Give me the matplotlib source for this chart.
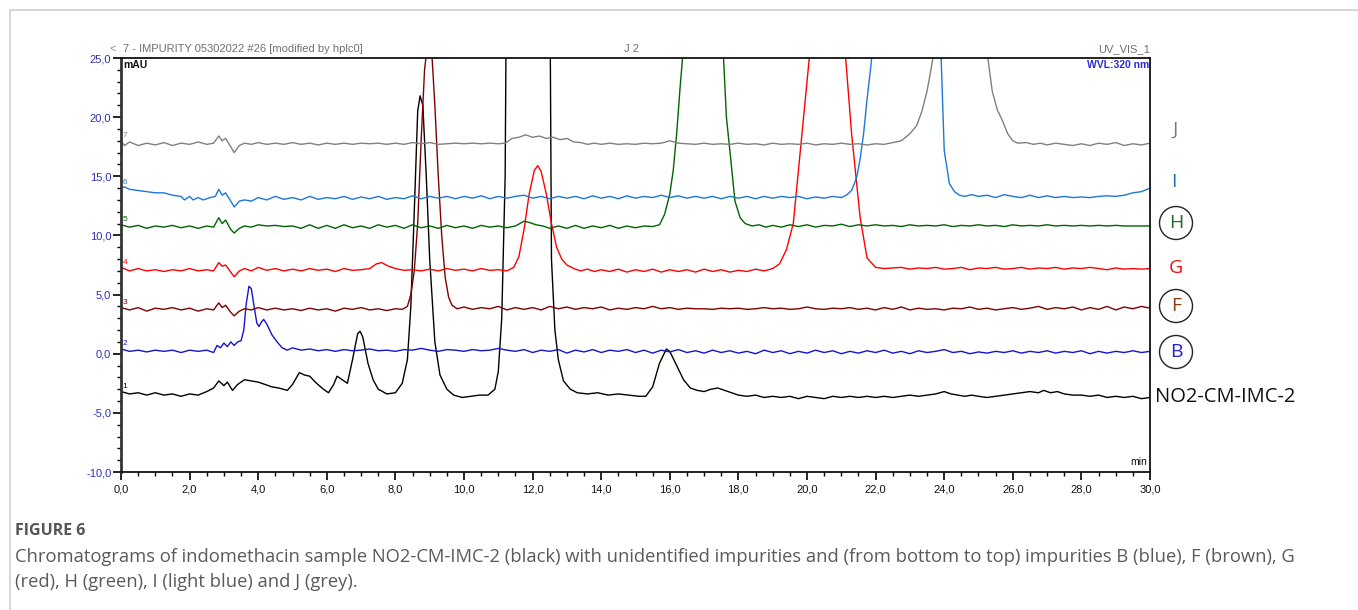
import matplotlib
matplotlib.use("Agg")
import matplotlib.pyplot as plt
from matplotlib.patches import Ellipse, Rectangle
from matplotlib.ticker import MultipleLocator, FuncFormatter

# ---------------- data (time [min], signal [mAU]) ----------------
trace_NO2 = [(0.0,-3.2),(0.25,-3.4),(0.5,-3.3),(0.75,-3.5),(1.0,-3.3),(1.25,-3.5),(1.5,-3.4),(1.75,-3.6),
    (2.0,-3.4),(2.25,-3.5),(2.5,-3.2),(2.7,-2.9),(2.85,-2.3),(3.0,-2.7),(3.1,-2.4),(3.25,-3.1),(3.4,-2.6),
    (3.6,-2.2),(3.8,-2.3),(4.0,-2.4),(4.2,-2.6),(4.4,-2.8),(4.6,-2.9),(4.85,-3.1),(5.0,-2.6),(5.2,-1.6),
    (5.35,-1.8),(5.5,-1.9),(5.7,-2.5),(5.9,-3.0),(6.05,-3.3),(6.2,-2.6),(6.3,-1.9),(6.45,-2.2),(6.6,-2.5),
    (6.75,-0.5),(6.9,1.7),(6.97,1.9),(7.05,1.4),(7.2,-0.8),(7.35,-2.2),(7.5,-3.0),(7.75,-3.4),(8.0,-3.3),
    (8.2,-2.5),(8.35,-0.5),(8.45,4.0),(8.55,12.0),(8.65,20.5),(8.72,21.8),(8.8,21.0),(8.9,15.0),(9.0,8.0),
    (9.15,1.0),(9.3,-1.8),(9.5,-3.0),(9.7,-3.5),(9.95,-3.7),(10.2,-3.6),(10.45,-3.5),(10.7,-3.5),(10.9,-3.0),
    (11.0,-1.5),(11.1,3.0),(11.2,15.0),(11.3,60.0),(11.9,150.0),(12.45,60.0),(12.55,8.0),(12.65,2.0),
    (12.75,-0.5),(12.9,-2.3),(13.1,-3.0),(13.3,-3.3),(13.6,-3.4),(13.9,-3.3),(14.2,-3.5),(14.5,-3.4),
    (14.8,-3.5),(15.1,-3.6),(15.3,-3.6),(15.5,-2.8),(15.7,-0.8),(15.9,0.4),(16.0,0.2),(16.2,-1.0),(16.4,-2.2),
    (16.6,-2.9),(16.8,-3.1),(17.0,-3.2),(17.2,-3.0),(17.4,-2.9),(17.6,-3.1),(17.8,-3.3),(18.0,-3.5),
    (18.25,-3.6),(18.5,-3.5),(18.75,-3.7),(19.0,-3.6),(19.25,-3.7),(19.5,-3.6),(19.75,-3.8),(20.0,-3.6),
    (20.25,-3.7),(20.5,-3.8),(20.75,-3.6),(21.0,-3.7),(21.25,-3.6),(21.5,-3.7),(21.75,-3.6),(22.0,-3.7),
    (22.25,-3.6),(22.5,-3.7),(22.75,-3.6),(23.0,-3.5),(23.25,-3.6),(23.5,-3.5),(23.75,-3.4),(24.0,-3.2),
    (24.2,-3.4),(24.4,-3.5),(24.6,-3.6),(24.8,-3.5),(25.0,-3.6),(25.25,-3.7),(25.5,-3.6),(25.75,-3.5),
    (26.0,-3.4),(26.25,-3.3),(26.5,-3.2),(26.75,-3.3),(26.9,-3.1),(27.1,-3.3),(27.3,-3.2),(27.5,-3.4),
    (27.75,-3.5),(28.0,-3.5),(28.25,-3.6),(28.5,-3.5),(28.75,-3.7),(29.0,-3.6),(29.25,-3.7),(29.5,-3.6),
    (29.75,-3.8),(30.0,-3.7)]

trace_B = [(0,0.4),(0.25,0.2),(0.5,0.3),(0.75,0.15),(1.0,0.3),(1.25,0.2),(1.5,0.3),(1.75,0.1),(2.0,0.3),
    (2.25,0.2),(2.5,0.3),(2.7,0.1),(2.8,0.7),(2.9,0.5),(3.0,0.9),(3.1,0.6),(3.2,1.0),(3.3,0.7),(3.4,1.0),
    (3.5,1.1),(3.58,2.0),(3.65,4.2),(3.73,5.7),(3.8,5.5),(3.88,4.0),(3.96,2.6),(4.02,2.3),(4.1,2.7),
    (4.16,2.9),(4.25,2.5),(4.4,1.6),(4.55,1.0),(4.7,0.5),(4.85,0.3),(5.0,0.5),(5.25,0.3),(5.5,0.4),
    (5.75,0.25),(6.0,0.35),(6.25,0.2),(6.5,0.35),(6.75,0.25),(7.0,0.3),(7.25,0.4),(7.5,0.25),(7.75,0.3),
    (8.0,0.2),(8.25,0.35),(8.5,0.3),(8.75,0.45),(9.0,0.3),(9.25,0.2),(9.5,0.35),(9.75,0.3),(10.0,0.2),
    (10.25,0.35),(10.5,0.25),(10.75,0.3),(11.0,0.45),(11.25,0.3),(11.5,0.2),(11.75,0.35),(12.0,0.1),
    (12.25,0.3),(12.5,0.2),(12.75,0.35),(13.0,0.05),(13.25,0.3),(13.5,0.15),(13.75,0.35),(14.0,0.1),
    (14.25,0.3),(14.5,0.2),(14.75,0.35),(15.0,0.1),(15.25,0.3),(15.5,0.05),(15.75,0.3),(16.0,0.15),
    (16.25,0.35),(16.5,0.1),(16.75,0.25),(17.0,0.05),(17.25,0.3),(17.5,0.1),(17.75,0.25),(18.0,0.05),
    (18.25,0.2),(18.5,0.0),(18.75,0.3),(19.0,0.1),(19.25,0.25),(19.5,0.0),(19.75,0.2),(20.0,0.05),
    (20.25,0.3),(20.5,0.1),(20.75,0.25),(21.0,0.0),(21.25,0.2),(21.5,0.05),(21.75,0.25),(22.0,0.1),
    (22.25,0.3),(22.5,0.05),(22.75,0.2),(23.0,0.0),(23.25,0.25),(23.5,0.1),(23.75,0.2),(24.0,0.35),
    (24.25,0.1),(24.5,0.2),(24.75,0.0),(25.0,0.15),(25.25,0.05),(25.5,0.2),(25.75,0.1),(26.0,0.25),
    (26.25,0.05),(26.5,0.2),(26.75,0.1),(27.0,0.25),(27.25,0.05),(27.5,0.2),(27.75,0.1),(28.0,0.25),
    (28.25,0.0),(28.5,0.2),(28.75,0.05),(29.0,0.2),(29.25,0.1),(29.5,0.25),(29.75,0.1),(30.0,0.2)]

trace_F = [(0,3.9),(0.25,3.7),(0.5,3.9),(0.75,3.6),(1.0,3.85),(1.25,3.75),(1.5,3.9),(1.75,3.7),(2.0,3.85),
    (2.25,3.6),(2.5,3.8),(2.7,3.7),(2.85,4.3),(2.95,3.9),(3.05,4.1),(3.2,3.5),(3.3,3.2),(3.45,3.6),(3.6,3.8),
    (3.8,3.7),(4.0,3.9),(4.25,3.7),(4.5,3.85),(4.75,3.7),(5.0,3.8),(5.25,3.65),(5.5,3.85),(5.75,3.7),
    (6.0,3.8),(6.25,3.6),(6.5,3.85),(6.75,3.75),(7.0,3.9),(7.25,3.7),(7.5,3.8),(7.75,3.65),(8.0,3.8),
    (8.2,3.75),(8.35,4.0),(8.45,5.0),(8.55,7.0),(8.65,11.0),(8.75,18.0),(8.85,24.0),(8.95,26.5),(9.05,26.0),
    (9.15,21.0),(9.25,15.0),(9.35,10.0),(9.45,6.5),(9.55,4.8),(9.65,4.1),(9.8,3.8),(10.0,3.95),(10.25,3.75),
    (10.5,3.9),(10.75,3.8),(11.0,4.0),(11.25,3.7),(11.5,3.9),(11.75,3.75),(12.0,3.9),(12.25,3.7),(12.5,4.0),
    (12.75,3.8),(13.0,3.95),(13.25,3.75),(13.5,3.9),(13.75,3.8),(14.0,3.95),(14.25,3.7),(14.5,3.85),
    (14.75,3.75),(15.0,3.9),(15.25,3.8),(15.5,4.0),(15.75,3.8),(16.0,3.9),(16.25,3.75),(16.5,3.85),
    (16.75,3.8),(17.0,3.8),(17.25,3.75),(17.5,3.85),(17.75,3.8),(18.0,3.85),(18.25,3.75),(18.5,3.8),
    (18.75,3.9),(19.0,3.8),(19.25,3.85),(19.5,3.75),(19.75,3.8),(20.0,3.95),(20.25,3.8),(20.5,3.75),
    (20.75,3.85),(21.0,3.8),(21.25,3.9),(21.5,3.75),(21.75,3.85),(22.0,3.7),(22.25,3.9),(22.5,3.75),
    (22.75,3.95),(23.0,3.7),(23.25,3.85),(23.5,3.75),(23.75,3.8),(24.0,3.7),(24.25,3.85),(24.5,3.8),
    (24.75,3.95),(25.0,3.75),(25.25,3.85),(25.5,3.7),(25.75,3.8),(26.0,3.9),(26.25,3.75),(26.5,3.85),
    (26.75,4.0),(27.0,3.75),(27.25,3.9),(27.5,3.8),(27.75,3.95),(28.0,3.7),(28.25,3.9),(28.5,3.75),
    (28.75,4.0),(29.0,3.7),(29.25,3.95),(29.5,3.8),(29.75,4.0),(30.0,3.85)]

trace_G = [(0,7.3),(0.25,7.0),(0.5,7.2),(0.75,7.0),(1.0,7.1),(1.25,6.95),(1.5,7.1),(1.75,7.0),(2.0,7.2),
    (2.25,7.0),(2.5,7.1),(2.7,7.0),(2.85,7.7),(2.95,7.4),(3.05,7.5),(3.2,6.9),(3.3,6.5),(3.45,7.0),(3.6,7.2),
    (3.8,7.0),(4.0,7.3),(4.25,7.05),(4.5,7.2),(4.75,7.0),(5.0,7.15),(5.25,7.0),(5.5,7.2),(5.75,7.05),
    (6.0,7.15),(6.25,6.95),(6.5,7.2),(6.75,7.05),(7.0,7.1),(7.25,7.2),(7.45,7.6),(7.6,7.7),(7.8,7.4),
    (8.0,7.2),(8.25,7.05),(8.5,7.1),(8.75,7.0),(9.0,7.15),(9.25,7.0),(9.5,7.2),(9.75,7.05),(10.0,7.15),
    (10.25,7.0),(10.5,7.2),(10.75,7.05),(11.0,7.1),(11.25,7.0),(11.45,7.3),(11.6,8.2),(11.75,10.5),
    (11.9,13.5),(12.05,15.5),(12.15,15.9),(12.25,15.4),(12.4,13.5),(12.55,11.0),(12.7,9.0),(12.85,8.0),
    (13.0,7.5),(13.2,7.2),(13.4,7.0),(13.6,7.15),(13.8,6.95),(14.0,7.1),(14.25,6.95),(14.5,7.15),
    (14.75,6.9),(15.0,7.1),(15.25,6.95),(15.5,7.15),(15.75,6.9),(16.0,7.1),(16.25,6.95),(16.5,7.1),
    (16.75,6.9),(17.0,7.15),(17.25,6.95),(17.5,7.1),(17.75,6.9),(18.0,7.05),(18.25,6.95),(18.5,7.15),
    (18.75,7.0),(19.0,7.2),(19.2,7.6),(19.4,8.8),(19.6,11.0),(19.8,17.0),(20.0,23.0),(20.1,26.0),
    (20.6,45.0),(21.1,26.0),(21.3,18.6),(21.55,11.5),(21.75,8.1),(22.0,7.3),(22.25,7.2),(22.5,7.25),
    (22.75,7.3),(23.0,7.15),(23.25,7.25),(23.5,7.2),(23.75,7.3),(24.0,7.15),(24.25,7.2),(24.5,7.3),
    (24.75,7.1),(25.0,7.25),(25.25,7.2),(25.5,7.3),(25.75,7.15),(26.0,7.2),(26.25,7.3),(26.5,7.15),
    (26.75,7.25),(27.0,7.2),(27.25,7.3),(27.5,7.15),(27.75,7.25),(28.0,7.2),(28.25,7.3),(28.5,7.2),
    (28.75,7.1),(29.0,7.25),(29.25,7.15),(29.5,7.2),(29.75,7.15),(30.0,7.2)]

trace_H = [(0,10.9),(0.25,10.7),(0.5,10.85),(0.75,10.6),(1.0,10.8),(1.25,10.7),(1.5,10.85),(1.75,10.65),
    (2.0,10.8),(2.25,10.6),(2.5,10.8),(2.7,10.7),(2.85,11.5),(2.95,11.0),(3.05,11.3),(3.2,10.5),(3.3,10.2),
    (3.45,10.6),(3.6,10.8),(3.8,10.7),(4.0,10.9),(4.25,10.8),(4.5,10.85),(4.75,10.75),(5.0,10.8),(5.25,10.6),
    (5.5,10.9),(5.75,10.6),(6.0,10.85),(6.25,10.6),(6.5,10.9),(6.75,10.65),(7.0,10.8),(7.25,10.6),(7.5,10.9),
    (7.75,10.7),(8.0,10.85),(8.25,10.6),(8.5,10.9),(8.75,10.65),(9.0,10.8),(9.25,10.6),(9.5,10.85),
    (9.75,10.65),(10.0,10.8),(10.25,10.6),(10.5,10.85),(10.75,10.7),(11.0,10.8),(11.25,10.65),(11.5,10.8),
    (11.75,11.2),(11.9,11.1),(12.1,10.9),(12.3,10.8),(12.5,10.6),(12.75,10.8),(13.0,10.6),(13.25,10.85),
    (13.5,10.6),(13.75,10.8),(14.0,10.65),(14.25,10.85),(14.5,10.6),(14.75,10.8),(15.0,10.65),(15.25,10.8),
    (15.5,10.75),(15.7,10.9),(15.85,11.8),(16.0,13.5),(16.1,15.5),(16.2,18.6),(16.3,22.5),(16.4,26.0),
    (17.0,50.0),(17.55,26.0),(17.65,20.0),(17.75,17.2),(17.9,12.9),(18.05,11.5),(18.2,11.0),(18.4,10.8),
    (18.6,10.9),(18.8,10.7),(19.0,10.85),(19.25,10.7),(19.5,10.9),(19.75,10.75),(20.0,10.9),(20.25,10.7),
    (20.5,10.85),(20.75,10.8),(21.0,10.95),(21.25,10.75),(21.5,10.9),(21.75,10.8),(22.0,10.9),(22.25,10.8),
    (22.5,10.85),(22.75,10.75),(23.0,10.9),(23.25,10.8),(23.5,10.85),(23.75,10.8),(24.0,10.9),(24.25,10.75),
    (24.5,10.85),(24.75,10.8),(25.0,10.9),(25.25,10.8),(25.5,10.85),(25.75,10.75),(26.0,10.9),(26.25,10.8),
    (26.5,10.85),(26.75,10.8),(27.0,10.9),(27.25,10.8),(27.5,10.85),(27.75,10.8),(28.0,10.85),(28.25,10.8),
    (28.5,10.85),(28.75,10.8),(29.0,10.85),(29.25,10.8),(29.5,10.8),(29.75,10.8),(30.0,10.8)]

trace_I = [(0,14.0),(0.1,14.1),(0.25,13.9),(0.5,13.8),(0.75,13.7),(1.0,13.6),(1.25,13.6),(1.5,13.4),
    (1.75,13.3),(1.85,13.0),(2.0,13.3),(2.1,13.0),(2.25,13.2),(2.4,13.0),(2.6,13.2),(2.75,13.3),(2.85,13.9),
    (2.95,13.4),(3.05,13.6),(3.2,12.9),(3.3,12.4),(3.45,12.9),(3.6,13.0),(3.8,12.9),(4.0,13.2),(4.25,13.0),
    (4.5,13.3),(4.75,13.05),(5.0,13.2),(5.25,13.0),(5.5,13.3),(5.75,13.05),(6.0,13.2),(6.25,13.1),(6.5,13.3),
    (6.75,13.05),(7.0,13.25),(7.25,13.1),(7.5,13.3),(7.75,13.05),(8.0,13.2),(8.25,13.1),(8.5,13.35),
    (8.75,13.1),(9.0,13.3),(9.25,13.15),(9.5,13.3),(9.75,13.1),(10.0,13.3),(10.25,13.15),(10.5,13.35),
    (10.75,13.1),(11.0,13.3),(11.25,13.15),(11.5,13.3),(11.75,13.4),(12.0,13.15),(12.25,13.3),(12.5,13.1),
    (12.75,13.3),(13.0,13.15),(13.25,13.3),(13.5,13.1),(13.75,13.35),(14.0,13.15),(14.25,13.3),(14.5,13.1),
    (14.75,13.35),(15.0,13.15),(15.25,13.3),(15.5,13.2),(15.75,13.4),(16.0,13.2),(16.25,13.35),(16.5,13.15),
    (16.75,13.3),(17.0,13.15),(17.25,13.3),(17.5,13.1),(17.75,13.3),(18.0,13.15),(18.25,13.3),(18.5,13.1),
    (18.75,13.3),(19.0,13.15),(19.25,13.3),(19.5,13.2),(19.75,13.3),(20.0,13.1),(20.25,13.25),(20.5,13.15),
    (20.75,13.3),(21.0,13.2),(21.15,13.4),(21.3,13.8),(21.45,14.9),(21.55,16.5),(21.65,18.6),(21.75,21.5),
    (21.85,24.0),(21.92,26.0),(22.9,60.0),(23.9,26.0),(24.0,17.2),(24.15,14.4),(24.3,13.7),(24.45,13.4),
    (24.6,13.3),(24.8,13.45),(25.0,13.3),(25.25,13.4),(25.5,13.2),(25.75,13.45),(26.0,13.3),(26.25,13.2),
    (26.5,13.4),(26.75,13.2),(27.0,13.35),(27.25,13.2),(27.5,13.3),(27.75,13.2),(28.0,13.25),(28.25,13.2),
    (28.5,13.3),(28.75,13.35),(29.0,13.3),(29.25,13.4),(29.5,13.6),(29.75,13.7),(30.0,14.0)]

trace_J = [(0,18.0),(0.1,17.6),(0.25,17.9),(0.5,17.6),(0.75,17.8),(1.0,17.65),(1.25,17.85),(1.5,17.6),
    (1.75,17.8),(2.0,17.7),(2.25,17.9),(2.5,17.7),(2.7,17.8),(2.85,18.4),(2.95,18.0),(3.05,18.2),(3.2,17.5),
    (3.3,17.0),(3.45,17.6),(3.6,17.8),(3.8,17.7),(4.0,17.85),(4.25,17.7),(4.5,17.8),(4.75,17.7),(5.0,17.85),
    (5.25,17.7),(5.5,17.8),(5.75,17.65),(6.0,17.8),(6.25,17.7),(6.5,17.8),(6.75,17.7),(7.0,17.8),(7.25,17.75),
    (7.5,17.8),(7.75,17.7),(8.0,17.8),(8.25,17.7),(8.5,17.85),(8.75,17.75),(9.0,17.85),(9.25,17.7),
    (9.5,17.75),(9.75,17.8),(10.0,17.75),(10.25,17.8),(10.5,17.75),(10.75,17.8),(11.0,17.75),(11.2,17.8),
    (11.4,18.2),(11.6,18.3),(11.8,18.5),(12.0,18.3),(12.2,18.4),(12.4,18.2),(12.6,18.3),(12.8,18.1),
    (13.0,18.2),(13.2,17.9),(13.4,17.85),(13.6,17.7),(13.8,17.8),(14.0,17.7),(14.25,17.8),(14.5,17.7),
    (14.75,17.75),(15.0,17.7),(15.25,17.8),(15.5,17.75),(15.75,17.8),(16.0,18.0),(16.25,17.8),(16.5,17.75),
    (16.75,17.7),(17.0,17.8),(17.25,17.7),(17.5,17.75),(17.75,17.7),(18.0,17.8),(18.25,17.7),(18.5,17.75),
    (18.75,17.65),(19.0,17.8),(19.25,17.7),(19.5,17.75),(19.75,17.7),(20.0,17.8),(20.25,17.65),(20.5,17.75),
    (20.75,17.7),(21.0,17.8),(21.25,17.7),(21.5,17.75),(21.75,17.65),(22.0,17.75),(22.25,17.7),(22.5,17.85),
    (22.75,18.0),(23.0,18.6),(23.2,19.3),(23.35,20.5),(23.5,22.2),(23.6,23.8),(23.7,25.5),(24.5,70.0),
    (25.25,25.5),(25.4,22.2),(25.55,20.6),(25.7,19.7),(25.85,18.6),(26.0,18.0),(26.15,17.8),(26.4,17.85),
    (26.6,17.7),(26.8,17.8),(27.0,17.65),(27.25,17.8),(27.5,17.7),(27.75,17.6),(28.0,17.75),(28.25,17.6),
    (28.5,17.8),(28.75,17.7),(29.0,17.85),(29.25,17.6),(29.5,17.75),(29.75,17.65),(30.0,17.8)]

trace_numbers = ["1", "2", "3", "4", "5", "6", "7"]
trace_labels = ["NO2-CM-IMC-2", "B", "F", "G", "H", "I", "J"]
circled = [False, True, True, False, True, False, False]
line_colors = ["#000000", "#1414D2", "#800000", "#FF0000", "#006400", "#1C78D8", "#808080"]
label_colors = ["#111111", "#2323C8", "#8B3A1A", "#F01010", "#1E6B2A", "#1F6FA8", "#7A7A7A"]
traces = [trace_NO2, trace_B, trace_F, trace_G, trace_H, trace_I, trace_J]

x_ticks = [0, 2, 4, 6, 8, 10, 12, 14, 16, 18, 20, 22, 24, 26, 28, 30]
y_ticks = [-10, -5, 0, 5, 10, 15, 20, 25]

header_left = "7 - IMPURITY 05302022 #26 [modified by hplc0]"
header_mid = "J 2"
header_right = "UV_VIS_1"
wvl_text = "WVL:320 nm"
caption_title = "FIGURE 6"
caption_l1 = ("Chromatograms of indomethacin sample NO2-CM-IMC-2 (black) with unidentified impurities and "
              "(from bottom to top) impurities B (blue), F (brown), G")
caption_l2 = "(red), H (green), I (light blue) and J (grey)."

# ---------------- figure ----------------
W, H = 1358, 610
fig = plt.figure(figsize=(W / 100, H / 100), dpi=100)

def fx(px):
    return px / W

def fy(py):
    return 1 - py / H

# page frame
fig.add_artist(Rectangle((fx(10), fy(700)), fx(1400), 690 / H, transform=fig.transFigure,
                         fill=False, edgecolor="#cfcfcf", linewidth=1.2))

ax_l, ax_r, ax_t, ax_b = 121, 1150, 58, 472
ax = fig.add_axes([fx(ax_l), fy(ax_b), fx(ax_r - ax_l), (ax_b - ax_t) / H])

for tr, col in zip(traces, line_colors):
    t = [p[0] for p in tr]
    v = [p[1] for p in tr]
    ax.plot(t, v, color=col, linewidth=1.0)

ax.set_xlim(0, 30)
ax.set_ylim(-10, 25)
ax.set_xticks(x_ticks)
ax.set_yticks(y_ticks)
ax.xaxis.set_minor_locator(MultipleLocator(0.5))
ax.yaxis.set_minor_locator(MultipleLocator(1))
fmt = FuncFormatter(lambda v, p: f"{v:.1f}".replace(".", ","))
ax.xaxis.set_major_formatter(fmt)
ax.yaxis.set_major_formatter(fmt)
ax.tick_params(axis="both", which="major", length=6, width=1.2, labelsize=8, direction="out")
ax.tick_params(axis="both", which="minor", length=3, width=1.0, direction="out")
ax.tick_params(axis="y", which="major", labelcolor="#2F2FB8", pad=1)
ax.tick_params(axis="x", which="major", labelcolor="#111111", pad=3)
for lab in ax.get_xticklabels() + ax.get_yticklabels():
    lab.set_family("Liberation Sans")
for s in ["top", "right", "bottom"]:
    ax.spines[s].set_linewidth(1.3)
    ax.spines[s].set_color("#111111")
ax.spines["left"].set_linewidth(2.0)
ax.spines["left"].set_color("#333333")

# in-axes annotations
ax.text(0.002, 0.995, "mAU", transform=ax.transAxes, ha="left", va="top", fontsize=7.5,
        family="Liberation Sans", color="#111111", fontweight="bold")
ax.text(0.999, 0.995, wvl_text, transform=ax.transAxes, ha="right", va="top", fontsize=7.5,
        family="Liberation Sans", color="#2B2BD8", fontweight="bold")
ax.text(0.997, 0.012, "min", transform=ax.transAxes, ha="right", va="bottom", fontsize=7.5,
        family="Liberation Sans", color="#111111")

# trace numbers at the start of each trace
for tr, num, col in zip(traces, trace_numbers, line_colors):
    ax.text(0.05, tr[0][1] + 0.15, num, color=col, fontsize=6, family="Liberation Sans",
            ha="left", va="bottom")

# header above the axes
fig.text(fx(109), fy(49), "<", color="#888888", fontsize=8, family="Liberation Sans", va="center")
fig.text(fx(123), fy(49), header_left, color="#707070", fontsize=8, family="Liberation Sans", va="center")
fig.text(fx(632), fy(49), header_mid, color="#707070", fontsize=8, family="Liberation Sans",
         va="center", ha="center")
fig.text(fx(1150), fy(49), header_right, color="#707070", fontsize=8, family="Liberation Sans",
         va="center", ha="right")

# right-side trace labels
label_px = [(1155, 397), (1176, 352), (1176, 306), (1176, 268), (1176, 223), (1174, 182), (1175, 130)]
for (px, py), lab, col, circ in zip(label_px, trace_labels, label_colors, circled):
    if lab.startswith("NO2"):
        fig.text(fx(px), fy(py), lab, color=col, fontsize=14.5, family="Open Sans", ha="left", va="center")
    else:
        fig.text(fx(px), fy(py), lab, color=col, fontsize=14, family="Open Sans", ha="center", va="center")
    if circ:
        fig.add_artist(Ellipse((fx(px), fy(py)), 33 / W, 33 / H, transform=fig.transFigure,
                               fill=False, edgecolor="#222222", linewidth=1.0))

# caption
fig.text(fx(15), fy(531), caption_title, color="#555555", fontsize=11.5, family="Open Sans",
         fontweight="bold", va="center")
fig.text(fx(15), fy(557), caption_l1, color="#5a5a5a", fontsize=13.2, family="Open Sans", va="center")
fig.text(fx(15), fy(582), caption_l2, color="#5a5a5a", fontsize=13.2, family="Open Sans", va="center")

fig.savefig("out.png", dpi=100)
